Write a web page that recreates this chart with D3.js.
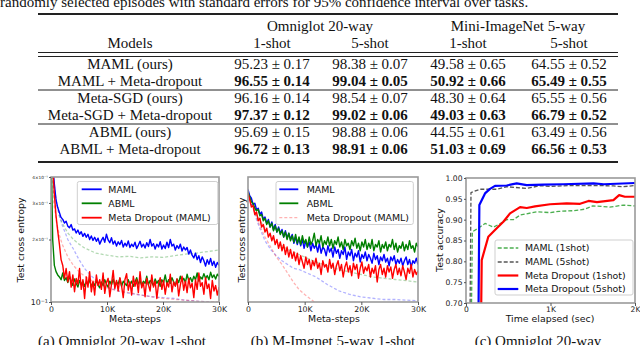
<!DOCTYPE html>
<html>
<head>
<meta charset="utf-8">
<script src="https://cdn.jsdelivr.net/npm/d3@7"></script>
<style>
  body { margin: 0; background: #fff; }
  svg { display: block; }
</style>
</head>
<body>
<svg id="fig" width="640" height="345"></svg>
<script>
// ---------- table data ----------
const tableCaption = "randomly selected episodes with standard errors for 95% confidence interval over tasks.";
const models = ["MAML (ours)", "MAML + Meta-dropout", "Meta-SGD (ours)", "Meta-SGD + Meta-dropout", "ABML (ours)", "ABML + Meta-dropout"];
const datasetHeaders = ["Omniglot 20-way", "Mini-ImageNet 5-way"];
const shotHeaders = ["1-shot", "5-shot", "1-shot", "5-shot"];
const omniglot1 = ["95.23 ± 0.17", "96.55 ± 0.14", "96.16 ± 0.14", "97.37 ± 0.12", "95.69 ± 0.15", "96.72 ± 0.13"];
const omniglot5 = ["98.38 ± 0.07", "99.04 ± 0.05", "98.54 ± 0.07", "99.02 ± 0.06", "98.88 ± 0.06", "98.91 ± 0.06"];
const mini1 = ["49.58 ± 0.65", "50.92 ± 0.66", "48.30 ± 0.64", "49.03 ± 0.63", "44.55 ± 0.61", "51.03 ± 0.69"];
const mini5 = ["64.55 ± 0.52", "65.49 ± 0.55", "65.55 ± 0.56", "66.79 ± 0.52", "63.49 ± 0.56", "66.56 ± 0.53"];

// ---------- panel (a) / (b): meta-steps, one value every 300 steps ----------
const stepSize = 300;
const stepTicks = [0, 10000, 20000, 30000];

const omniMAML = [
  0.55, 0.46, 0.37, 0.31, 0.285, 0.27, 0.255, 0.25, 0.24, 0.245,
  0.232, 0.228, 0.236, 0.222, 0.225, 0.215, 0.222, 0.212, 0.218, 0.207,
  0.214, 0.205, 0.212, 0.2, 0.208, 0.198, 0.205, 0.196, 0.203, 0.19,
  0.198, 0.205, 0.194, 0.212, 0.199, 0.193, 0.204, 0.19, 0.197, 0.186,
  0.195, 0.189, 0.198, 0.184, 0.192, 0.186, 0.197, 0.183, 0.19, 0.185,
  0.194, 0.181, 0.188, 0.196, 0.184, 0.19, 0.182, 0.193, 0.185, 0.2,
  0.186, 0.191, 0.18, 0.19, 0.184, 0.195, 0.18, 0.188, 0.181, 0.194,
  0.183, 0.2, 0.186, 0.19, 0.178, 0.187, 0.181, 0.19, 0.176, 0.184,
  0.178, 0.183, 0.17, 0.178, 0.168, 0.163, 0.172, 0.16, 0.167, 0.155,
  0.165, 0.158, 0.149, 0.16, 0.152, 0.162, 0.15, 0.157, 0.147, 0.155,
  0.15];
const omniABML = [
  0.6, 0.2, 0.15, 0.14, 0.135, 0.132, 0.128, 0.138, 0.127, 0.131,
  0.124, 0.133, 0.126, 0.12, 0.129, 0.123, 0.118, 0.127, 0.121, 0.126,
  0.119, 0.125, 0.122, 0.128, 0.118, 0.124, 0.12, 0.127, 0.121, 0.117,
  0.125, 0.12, 0.128, 0.122, 0.118, 0.126, 0.121, 0.129, 0.12, 0.125,
  0.122, 0.13, 0.119, 0.126, 0.123, 0.12, 0.128, 0.121, 0.126, 0.119,
  0.125, 0.131, 0.122, 0.127, 0.12, 0.126, 0.123, 0.133, 0.121, 0.127,
  0.124, 0.12, 0.129, 0.123, 0.127, 0.119, 0.128, 0.124, 0.135, 0.122,
  0.128, 0.123, 0.131, 0.125, 0.12, 0.129, 0.124, 0.133, 0.126, 0.13,
  0.124, 0.136, 0.127, 0.131, 0.125, 0.133, 0.128, 0.138, 0.126, 0.132,
  0.129, 0.137, 0.13, 0.134, 0.128, 0.139, 0.131, 0.135, 0.129, 0.136,
  0.133];
const omniDropout = [
  0.6, 0.45, 0.33, 0.26, 0.22, 0.19, 0.16, 0.15, 0.13, 0.145,
  0.125, 0.14, 0.118, 0.135, 0.112, 0.13, 0.122, 0.145, 0.115, 0.128,
  0.104, 0.132, 0.118, 0.14, 0.112, 0.126, 0.108, 0.135, 0.12, 0.128,
  0.115, 0.138, 0.11, 0.124, 0.13, 0.106, 0.122, 0.142, 0.116, 0.127,
  0.113, 0.131, 0.12, 0.105, 0.128, 0.137, 0.114, 0.125, 0.108, 0.133,
  0.119, 0.128, 0.111, 0.14, 0.117, 0.124, 0.106, 0.13, 0.121, 0.113,
  0.135, 0.118, 0.126, 0.104, 0.122, 0.131, 0.115, 0.127, 0.109, 0.124,
  0.118, 0.136, 0.112, 0.125, 0.119, 0.129, 0.107, 0.121, 0.133, 0.114,
  0.126, 0.111, 0.13, 0.117, 0.123, 0.105, 0.128, 0.115, 0.138, 0.119,
  0.124, 0.109, 0.131, 0.116, 0.122, 0.104, 0.127, 0.113, 0.12, 0.108,
  0.118];

const imgMAML = [
  0.9, 0.85, 0.83, 0.78, 0.79, 0.74, 0.75, 0.7, 0.72, 0.66,
  0.68, 0.63, 0.66, 0.6, 0.64, 0.58, 0.62, 0.56, 0.6, 0.55,
  0.58, 0.52, 0.57, 0.51, 0.55, 0.5, 0.54, 0.47, 0.52, 0.46,
  0.51, 0.45, 0.5, 0.43, 0.49, 0.44, 0.48, 0.41, 0.47, 0.43,
  0.46, 0.4, 0.47, 0.39, 0.44, 0.42, 0.37, 0.45, 0.4, 0.43,
  0.36, 0.44, 0.39, 0.42, 0.35, 0.41, 0.38, 0.44, 0.34, 0.4,
  0.37, 0.42, 0.33, 0.39, 0.36, 0.41, 0.32, 0.38, 0.35, 0.4,
  0.33, 0.38, 0.35, 0.31, 0.39, 0.34, 0.37, 0.3, 0.36, 0.33,
  0.38, 0.32, 0.35, 0.29, 0.36, 0.33, 0.37, 0.3, 0.34, 0.31,
  0.35, 0.29, 0.33, 0.36, 0.3, 0.34, 0.28, 0.33, 0.31, 0.35,
  0.3];
const imgABML = [
  0.88, 0.84, 0.8, 0.79, 0.75, 0.73, 0.74, 0.69, 0.7, 0.65,
  0.67, 0.62, 0.65, 0.6, 0.63, 0.57, 0.61, 0.56, 0.59, 0.54,
  0.57, 0.52, 0.56, 0.5, 0.55, 0.49, 0.53, 0.48, 0.54, 0.47,
  0.52, 0.46, 0.53, 0.47, 0.5, 0.44, 0.52, 0.46, 0.49, 0.55,
  0.45, 0.5, 0.47, 0.53, 0.44, 0.49, 0.46, 0.52, 0.45, 0.5,
  0.43, 0.49, 0.46, 0.52, 0.44, 0.48, 0.42, 0.5, 0.45, 0.47,
  0.42, 0.49, 0.45, 0.51, 0.43, 0.47, 0.41, 0.48, 0.44, 0.5,
  0.42, 0.47, 0.43, 0.5, 0.41, 0.46, 0.44, 0.49, 0.4, 0.46,
  0.43, 0.48, 0.41, 0.46, 0.44, 0.5, 0.42, 0.47, 0.4, 0.45,
  0.43, 0.48, 0.41, 0.46, 0.42, 0.49, 0.43, 0.45, 0.4, 0.47,
  0.44];
const imgDropout = [
  0.87, 0.82, 0.76, 0.77, 0.7, 0.72, 0.65, 0.67, 0.6, 0.62,
  0.56, 0.59, 0.52, 0.55, 0.49, 0.53, 0.46, 0.5, 0.43, 0.48,
  0.41, 0.46, 0.38, 0.44, 0.36, 0.42, 0.35, 0.4, 0.33, 0.39,
  0.3, 0.37, 0.32, 0.27, 0.36, 0.3, 0.34, 0.26, 0.33, 0.29,
  0.35, 0.27, 0.31, 0.22, 0.33, 0.28, 0.3, 0.24, 0.34, 0.27,
  0.31, 0.22, 0.29, 0.33, 0.25, 0.3, 0.2, 0.28, 0.32, 0.24,
  0.29, 0.21, 0.31, 0.26, 0.3, 0.19, 0.27, 0.32, 0.23, 0.28,
  0.25, 0.3, 0.2, 0.27, 0.23, 0.29, 0.16, 0.26, 0.3, 0.22,
  0.27, 0.2, 0.29, 0.24, 0.28, 0.19, 0.26, 0.3, 0.22, 0.27,
  0.21, 0.29, 0.24, 0.18, 0.27, 0.23, 0.3, 0.2, 0.26, 0.22,
  0.25];

// faded (training) curves, sampled more sparsely
const fadedSteps = [0, 500, 1000, 1500, 2000, 3000, 4000, 5000, 6000, 7000, 8000, 9000, 10000, 12000, 14000, 16000, 18000, 20000, 22000, 24000, 26000, 28000, 30000];
const omniMAMLTrain = [0.6, 0.33, 0.3, 0.26, 0.235, 0.2, 0.18, 0.16, 0.145, 0.135, 0.128, 0.122, 0.118, 0.113, 0.11, 0.108, 0.106, 0.105, 0.104, 0.102, 0.101, 0.1, 0.099];
const omniABMLTrain = [0.6, 0.38, 0.3, 0.26, 0.24, 0.215, 0.2, 0.19, 0.182, 0.177, 0.172, 0.17, 0.168, 0.165, 0.166, 0.163, 0.165, 0.164, 0.167, 0.17, 0.172, 0.175, 0.178];
const omniDropoutTrain = [0.6, 0.3, 0.24, 0.21, 0.19, 0.165, 0.15, 0.14, 0.133, 0.128, 0.124, 0.12, 0.117, 0.113, 0.111, 0.108, 0.106, 0.104, 0.103, 0.102, 0.101, 0.1, 0.1];
const imgMAMLTrain = [0.86, 0.8, 0.74, 0.66, 0.6, 0.49, 0.42, 0.37, 0.33, 0.3, 0.27, 0.26, 0.24, 0.2, 0.14, 0.09, 0.06, 0.04, 0.03, 0.02, 0.02, 0.015, 0.01];
const imgABMLTrain = [0.86, 0.8, 0.75, 0.7, 0.66, 0.59, 0.53, 0.48, 0.45, 0.42, 0.4, 0.38, 0.36, 0.32, 0.29, 0.26, 0.24, 0.22, 0.2, 0.19, 0.18, 0.17, 0.16];
const imgDropoutTrain = [0.86, 0.8, 0.74, 0.68, 0.62, 0.52, 0.44, 0.36, 0.3, 0.23, 0.16, 0.1, 0.06, -0.01, -0.05, -0.08, -0.1, -0.1, -0.1, -0.1, -0.1, -0.1, -0.1];

// ---------- panel (c): accuracy vs time ----------
const timeTicks = [0, 1000, 2000];
const accTicks = [0.70, 0.75, 0.80, 0.85, 0.90, 0.95, 1.00];
const maml1Time = [60, 75, 150, 225, 323, 400, 482, 560, 640, 837, 995, 1100, 1270, 1400, 1500, 1600, 1700, 1860, 2000];
const maml1Acc  = [0.60, 0.871, 0.88, 0.891, 0.882, 0.89, 0.90, 0.90, 0.911, 0.919, 0.917, 0.92, 0.9215, 0.925, 0.933, 0.932, 0.93, 0.935, 0.933];
const maml5Time = [45, 59, 166, 364, 482, 719, 877, 1000, 1270, 1500, 1743, 1850, 2000];
const maml5Acc  = [0.60, 0.965, 0.973, 0.973, 0.979, 0.975, 0.9815, 0.98, 0.982, 0.982, 0.981, 0.979, 0.982];
const drop1Time = [175, 186, 264, 343, 442, 521, 640, 719, 817, 995, 1192, 1350, 1450, 1550, 1745, 1812, 1880, 2000];
const drop1Acc  = [0.60, 0.803, 0.859, 0.875, 0.895, 0.915, 0.93, 0.928, 0.932, 0.937, 0.939, 0.938, 0.945, 0.942, 0.947, 0.959, 0.955, 0.955];
const drop5Time = [145, 158, 225, 284, 343, 482, 600, 718, 915, 1152, 1510, 1630, 2000];
const drop5Acc  = [0.60, 0.935, 0.963, 0.974, 0.981, 0.982, 0.987, 0.983, 0.984, 0.985, 0.987, 0.985, 0.988];

// ---------- drawing ----------
const serif = "'Liberation Serif', 'Times New Roman', serif";
const sans = "'DejaVu Sans', sans-serif";
const BLUE = "#0000ff", GREEN = "#008000", RED = "#ff0000";
const fig = d3.select("#fig");

// table
const table = fig.append("g").attr("font-family", serif).attr("font-size", 15).attr("fill", "#111");
table.append("text").attr("x", 0).attr("y", 7).text(tableCaption);

[[14, 2], [52.5, 1], [56.5, 1], [90, 1], [124, 1], [162, 2]].forEach(([y, w]) => {
  table.append("line").attr("x1", 38).attr("x2", 618).attr("y1", y).attr("y2", y)
    .attr("stroke", "#222").attr("stroke-width", w);
});

const colKeys = ["model", "o1", "o5", "m1", "m5"];
const colX = d3.scaleOrdinal().domain(colKeys).range([130, 272, 370, 468, 569]);
const groupX = d3.scaleOrdinal().domain(datasetHeaders).range([320, 518]);
const rowY = d3.scaleLinear().domain([0, models.length - 1]).range([69, 154]);

table.selectAll(".grp").data(datasetHeaders).join("text")
  .attr("x", d => groupX(d)).attr("y", 31).attr("text-anchor", "middle").text(d => d);
table.append("text").attr("x", colX("model")).attr("y", 48).attr("text-anchor", "middle").text("Models");
table.selectAll(".shot").data(shotHeaders).join("text")
  .attr("x", (d, i) => colX(colKeys[i + 1])).attr("y", 48).attr("text-anchor", "middle").text(d => d);

const cols = [models, omniglot1, omniglot5, mini1, mini5];
cols.forEach((col, c) => {
  table.append("g").selectAll("text").data(col).join("text")
    .attr("x", colX(colKeys[c])).attr("y", (d, i) => rowY(i))
    .attr("text-anchor", "middle")
    .attr("font-weight", (d, i) => (c > 0 && i % 2 === 1) ? "bold" : "normal")
    .text(d => d);
});

// helpers
function frame(g, x, y) {
  const [x0, x1] = x.range(), [y0, y1] = y.range();
  g.append("rect").attr("x", x0).attr("y", y1).attr("width", x1 - x0).attr("height", y0 - y1)
    .attr("fill", "none").attr("stroke", "#9a9a9a").attr("stroke-width", 1.6);
}
function styleAxis(s, size) {
  s.attr("font-family", sans).attr("font-size", size);
  s.select(".domain").remove();
  s.selectAll("line").attr("stroke", "#555");
  s.selectAll("text").attr("fill", "#222");
}
function clip(id, x, y) {
  const [x0, x1] = x.range(), [y0, y1] = y.range();
  fig.append("clipPath").attr("id", id).append("rect")
    .attr("x", x0).attr("y", y1).attr("width", x1 - x0).attr("height", y0 - y1);
}
function drawLine(g, pts, x, y, style) {
  g.append("path").datum(pts)
    .attr("fill", "none")
    .attr("stroke", style.color)
    .attr("stroke-width", style.width || 1.3)
    .attr("stroke-opacity", style.opacity || 1)
    .attr("stroke-dasharray", style.dash || null)
    .attr("stroke-linejoin", "round")
    .attr("d", d3.line().x(d => x(d[0])).y(d => y(d[1])));
}
const bySteps = vals => vals.map((v, i) => [i * stepSize, v]);
const byFaded = vals => vals.map((v, i) => [fadedSteps[i], v]);
const zip = (t, v) => t.map((d, i) => [d, v[i]]);
const kFormat = d => d === 0 ? "0" : (d / 1000) + "K";

function legend(g, box, entries) {
  g.append("rect").attr("x", box.x).attr("y", box.y).attr("width", box.w).attr("height", box.h)
    .attr("rx", 2).attr("fill", "#fff").attr("fill-opacity", 0.85).attr("stroke", "#cfcfcf");
  entries.forEach(e => {
    g.append("line").attr("x1", box.sx0).attr("x2", box.sx1).attr("y1", e.y).attr("y2", e.y)
      .attr("stroke", e.color).attr("stroke-width", e.width || 1.8)
      .attr("stroke-opacity", e.opacity || 1).attr("stroke-dasharray", e.dash || null);
    g.append("text").attr("x", box.tx).attr("y", e.y).attr("dy", "0.35em")
      .attr("font-family", sans).attr("font-size", 9.4).attr("fill", "#111").text(e.label);
  });
}
function yLabel(text, x, y) {
  fig.append("text").attr("transform", `translate(${x},${y}) rotate(-90)`)
    .attr("text-anchor", "middle").attr("font-family", sans).attr("font-size", 9.4)
    .attr("fill", "#111").text(text);
}
function xLabel(text, x, y) {
  fig.append("text").attr("x", x).attr("y", y).attr("text-anchor", "middle")
    .attr("font-family", sans).attr("font-size", 9.4).attr("fill", "#111").text(text);
}
function caption(text, x) {
  fig.append("text").attr("x", x).attr("y", 346).attr("text-anchor", "middle")
    .attr("font-family", serif).attr("font-size", 15).attr("fill", "#111").text(text);
}
const faded = { width: 1.3, opacity: 0.3, dash: "3,2" };

// ----- panel (a)
{
  const x = d3.scaleLinear().domain([0, 30000]).range([51, 219]);
  const y = d3.scaleLog().domain([0.1, 0.4]).range([302, 177]);
  clip("clipA", x, y);
  const g = fig.append("g");
  const lines = g.append("g").attr("clip-path", "url(#clipA)");
  drawLine(lines, byFaded(omniABMLTrain), x, y, { ...faded, color: GREEN });
  drawLine(lines, byFaded(omniMAMLTrain), x, y, { ...faded, color: BLUE });
  drawLine(lines, byFaded(omniDropoutTrain), x, y, { ...faded, color: RED });
  drawLine(lines, bySteps(omniMAML), x, y, { color: BLUE, width: 1.4 });
  drawLine(lines, bySteps(omniABML), x, y, { color: GREEN, width: 1.4 });
  drawLine(lines, bySteps(omniDropout), x, y, { color: RED, width: 1.4 });
  frame(g, x, y);
  g.append("g").attr("transform", "translate(0,302)")
    .call(d3.axisBottom(x).tickValues(stepTicks).tickFormat(kFormat).tickSize(3).tickPadding(1))
    .call(s => styleAxis(s, 7.8));
  g.append("g").attr("transform", "translate(51,0)")
    .call(d3.axisLeft(y).tickValues([0.1, 0.2, 0.3, 0.4])
      .tickFormat(d => d === 0.1 ? "10⁻¹" : Math.round(d * 10) + "×10⁻¹").tickSize(2).tickPadding(1))
    .call(s => styleAxis(s, 7.8))
    .call(s => s.selectAll("text").filter(d => d !== 0.1).attr("font-size", 4.3));
  legend(g, { x: 77.3, y: 181.5, w: 140.5, h: 43, sx0: 81.7, sx1: 101.7, tx: 108.3 }, [
    { label: "MAML", color: BLUE, y: 189.3 },
    { label: "ABML", color: GREEN, y: 203.3 },
    { label: "Meta Dropout (MAML)", color: RED, y: 217.7 }
  ]);
  yLabel("Test cross entropy", 23.5, 240);
  xLabel("Meta-steps", 135, 322);
  caption("(a) Omniglot 20-way 1-shot", 122);
}

// ----- panel (b)
{
  const x = d3.scaleLinear().domain([0, 30000]).range([248, 418]);
  const y = d3.scaleLinear().domain([0, 1]).range([302, 177]);
  clip("clipB", x, y);
  const g = fig.append("g");
  const lines = g.append("g").attr("clip-path", "url(#clipB)");
  drawLine(lines, byFaded(imgABMLTrain), x, y, { ...faded, color: GREEN });
  drawLine(lines, byFaded(imgMAMLTrain), x, y, { ...faded, color: BLUE });
  drawLine(lines, byFaded(imgDropoutTrain), x, y, { ...faded, color: RED });
  drawLine(lines, bySteps(imgMAML), x, y, { color: BLUE, width: 1.4 });
  drawLine(lines, bySteps(imgABML), x, y, { color: GREEN, width: 1.4 });
  drawLine(lines, bySteps(imgDropout), x, y, { color: RED, width: 1.4 });
  frame(g, x, y);
  g.append("g").attr("transform", "translate(0,302)")
    .call(d3.axisBottom(x).tickValues(stepTicks).tickFormat(kFormat).tickSize(3).tickPadding(1))
    .call(s => styleAxis(s, 7.8));
  legend(g, { x: 276, y: 181.5, w: 137.3, h: 43, sx0: 279.3, sx1: 298.3, tx: 306.7 }, [
    { label: "MAML", color: BLUE, y: 189.3 },
    { label: "ABML", color: GREEN, y: 203.3 },
    { label: "Meta Dropout (MAML)", color: RED, y: 217.7, opacity: 0.3, dash: "3,2", width: 1.3 }
  ]);
  yLabel("Test cross entropy", 245, 240);
  xLabel("Meta-steps", 334, 322);
  caption("(b) M-Imgnet 5-way 1-shot", 333);
}

// ----- panel (c)
{
  const x = d3.scaleLinear().domain([0, 2000]).range([466, 635]);
  const y = d3.scaleLinear().domain([0.70, 1.00]).range([303, 178]);
  clip("clipC", x, y);
  const g = fig.append("g");
  const lines = g.append("g").attr("clip-path", "url(#clipC)");
  drawLine(lines, zip(maml1Time, maml1Acc), x, y, { color: "#4caf50", width: 1.3, dash: "4,2" });
  drawLine(lines, zip(maml5Time, maml5Acc), x, y, { color: "#555", width: 1.3, dash: "4,2" });
  drawLine(lines, zip(drop1Time, drop1Acc), x, y, { color: RED, width: 2.2 });
  drawLine(lines, zip(drop5Time, drop5Acc), x, y, { color: BLUE, width: 2.2 });
  frame(g, x, y);
  g.append("g").attr("transform", "translate(0,303)")
    .call(d3.axisBottom(x).tickValues(timeTicks).tickFormat(kFormat).tickSize(3).tickPadding(1))
    .call(s => styleAxis(s, 7.6));
  g.append("g").attr("transform", "translate(466,0)")
    .call(d3.axisLeft(y).tickValues(accTicks).tickFormat(d3.format(".2f")).tickSize(2).tickPadding(1.5))
    .call(s => styleAxis(s, 7.6));
  legend(g, { x: 495, y: 240, w: 138, h: 55, sx0: 497.7, sx1: 518.3, tx: 525 }, [
    { label: "MAML (1shot)", color: "#4caf50", y: 248, dash: "4,2", width: 1.3 },
    { label: "MAML (5shot)", color: "#555", y: 262, dash: "4,2", width: 1.3 },
    { label: "Meta Dropout (1shot)", color: RED, y: 275.5, width: 2.2 },
    { label: "Meta Dropout (5shot)", color: BLUE, y: 289, width: 2.2 }
  ]);
  yLabel("Test accuracy", 443, 240);
  xLabel("Time elapsed (sec)", 550, 322);
  caption("(c) Omniglot 20-way", 538);
}
</script>
</body>
</html>
